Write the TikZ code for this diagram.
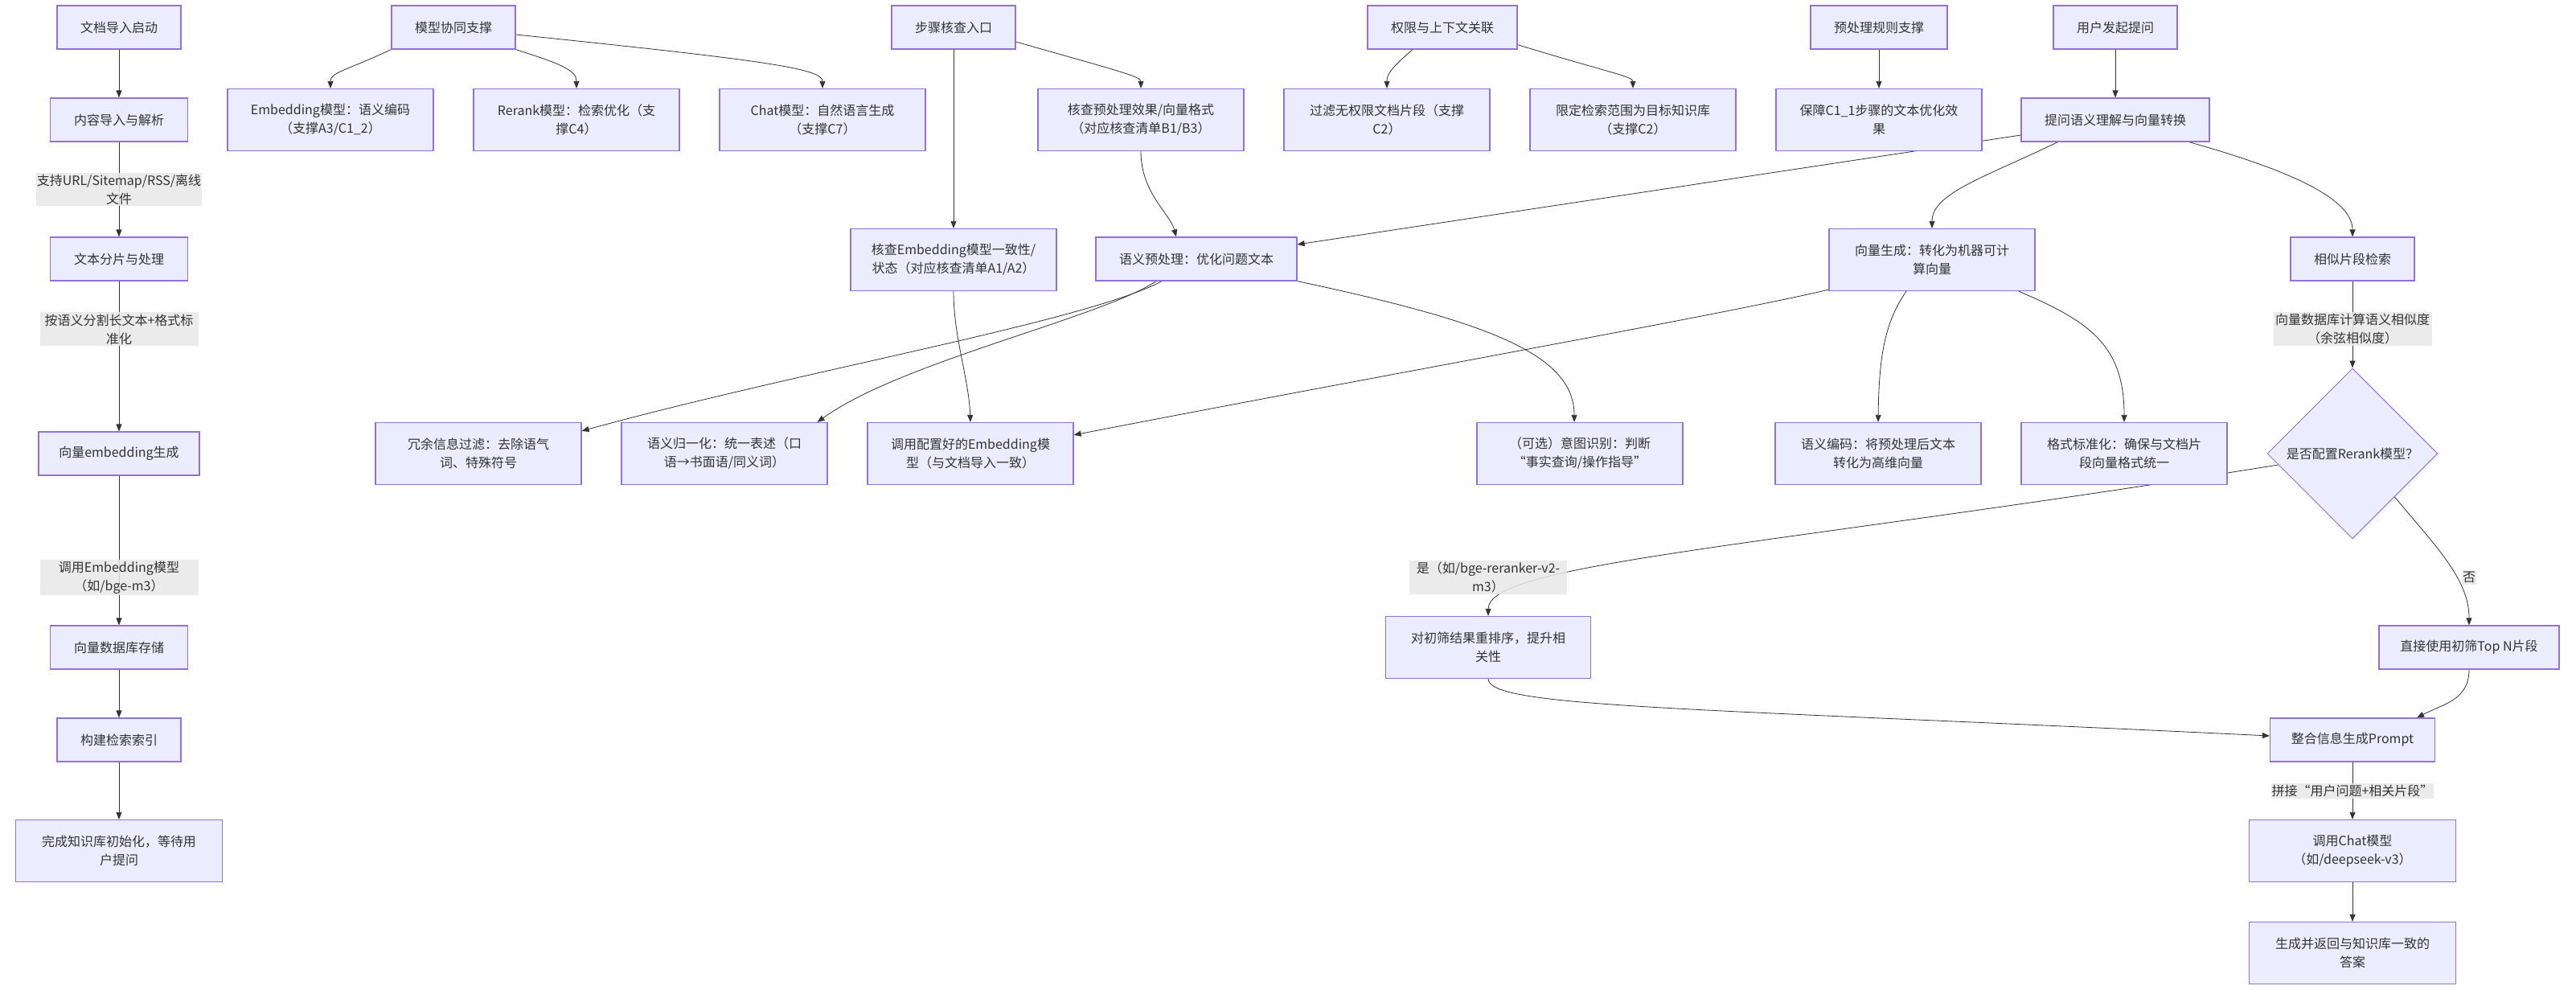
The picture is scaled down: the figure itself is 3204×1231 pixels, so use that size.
\documentclass[tikz,border=0pt]{standalone}
\usepackage{fontspec}
\setmainfont{Noto Sans CJK SC}
\usetikzlibrary{arrows.meta,backgrounds,shapes.geometric}
\definecolor{FlowFill}{HTML}{ECECFF}
\definecolor{FlowBorder}{HTML}{9370DB}
\definecolor{NoteGray}{HTML}{E8E8E8}
\definecolor{InkGray}{HTML}{333333}
\tikzset{
  flowbox/.style={draw=FlowBorder, fill=FlowFill, line width=1.2pt, align=center,
    font=\fontsize{16}{23}\selectfont, text=InkGray, inner sep=0pt,
    minimum width=256pt, minimum height=54pt},
  twoline/.style={minimum height=77pt},
  decision/.style={diamond, aspect=1, draw=FlowBorder, fill=FlowFill, line width=1pt,
    font=\fontsize{16}{23}\selectfont, text=InkGray, inner sep=0pt,
    minimum width=212pt, minimum height=212pt},
  flowarrow/.style={-{Triangle[length=9pt,width=7pt]}, line width=0.8pt, draw=InkGray},
  edgenote/.style={fill=NoteGray, fill opacity=0.85, text opacity=1, text=InkGray,
    align=center, font=\fontsize{16}{23}\selectfont, inner xsep=1pt, inner ysep=2pt}
}
\begin{document}
\begin{tikzpicture}[x=1pt, y=-1pt]
  \useasboundingbox (0,0) rectangle (3204,1231);
  \node[flowbox, minimum width=154pt] (A1) at (148,34) {文档导入启动};
  \node[flowbox, minimum width=171pt] (A2) at (148,149) {内容导入与解析};
  \node[flowbox, minimum width=171pt] (A3) at (148,322) {文本分片与处理};
  \node[flowbox, minimum width=200pt] (A4) at (148,564) {向量embedding生成};
  \node[flowbox, minimum width=171pt] (A5) at (148,805) {向量数据库存储};
  \node[flowbox, minimum width=154pt] (A6) at (148,920) {构建检索索引};
  \node[flowbox, twoline, minimum width=257pt] (A7) at (148,1058) {完成知识库初始化，等待用\\户提问};
  \node[flowbox, minimum width=154pt] (B0) at (564,34) {模型协同支撑};
  \node[flowbox, twoline] (B1) at (411,149) {Embedding模型：语义编码\\（支撑A3/C1\_2）};
  \node[flowbox, twoline] (B2) at (717,149) {Rerank模型：检索优化（支\\撑C4）};
  \node[flowbox, twoline] (B3) at (1023,149) {Chat模型：自然语言生成\\（支撑C7）};
  \node[flowbox, minimum width=154pt] (C0) at (1186,34) {步骤核查入口};
  \node[flowbox, twoline] (C1) at (1419,149) {核查预处理效果/向量格式\\（对应核查清单B1/B3）};
  \node[flowbox, twoline] (C2) at (1186,323) {核查Embedding模型一致性/\\状态（对应核查清单A1/A2）};
  \node[flowbox, twoline] (C3) at (1207,564) {调用配置好的Embedding模\\型（与文档导入一致）};
  \node[flowbox, minimum width=186pt] (D0) at (1794,34) {权限与上下文关联};
  \node[flowbox, twoline] (D1) at (1725,149) {过滤无权限文档片段（支撑\\C2）};
  \node[flowbox, twoline] (D2) at (2031,149) {限定检索范围为目标知识库\\（支撑C2）};
  \node[flowbox, minimum width=170pt] (E0) at (2337,34) {预处理规则支撑};
  \node[flowbox, twoline] (E1) at (2337,149) {保障C1\_1步骤的文本优化效\\果};
  \node[flowbox, minimum width=154pt] (F0) at (2631,34) {用户发起提问};
  \node[flowbox, minimum width=234pt] (F1) at (2631,149) {提问语义理解与向量转换};
  \node[flowbox, minimum width=250pt] (G1) at (1488,322) {语义预处理：优化问题文本};
  \node[flowbox, twoline] (G2) at (595,564) {冗余信息过滤：去除语气\\词、特殊符号};
  \node[flowbox, twoline] (G3) at (901,564) {语义归一化：统一表述（口\\语→书面语/同义词）};
  \node[flowbox, twoline] (G4) at (1965,564) {（可选）意图识别：判断\\“事实查询/操作指导”};
  \node[flowbox, twoline] (H1) at (2403,323) {向量生成：转化为机器可计\\算向量};
  \node[flowbox, twoline] (H2) at (2336,564) {语义编码：将预处理后文本\\转化为高维向量};
  \node[flowbox, twoline] (H3) at (2642,564) {格式标准化：确保与文档片\\段向量格式统一};
  \node[flowbox, minimum width=154pt] (I1) at (2926,322) {相似片段检索};
  \node[decision] (dia) at (2926,564) {是否配置Rerank模型？};
  \node[flowbox, twoline, minimum width=255pt] (J1) at (1851,805) {对初筛结果重排序，提升相\\关性};
  \node[flowbox, minimum width=224pt] (K1) at (3071,805) {直接使用初筛Top N片段};
  \node[flowbox, minimum width=205pt] (L1) at (2926,920) {整合信息生成Prompt};
  \node[flowbox, twoline, minimum width=257pt] (L2) at (2926,1058) {调用Chat模型\\（如/deepseek-v3）};
  \node[flowbox, twoline, minimum width=257pt] (L3) at (2926,1185) {生成并返回与知识库一致的\\答案};
  \begin{scope}[on background layer]
    \draw[flowarrow] (A1) -- (A2);
    \draw[flowarrow] (A2) -- node[edgenote, minimum width=197pt]{支持URL/Sitemap/RSS/离线\\文件} (A3);
    \draw[flowarrow] (A3) -- node[edgenote, pos=0.32, minimum width=197pt]{按语义分割长文本+格式标\\准化} (A4);
    \draw[flowarrow] (A4) -- node[edgenote, pos=0.68, minimum width=197pt]{调用Embedding模型\\（如/bge-m3）} (A5);
    \draw[flowarrow] (A5) -- (A6);
    \draw[flowarrow] (A6) -- (A7);
    \draw[flowarrow] (B0.south west) .. controls (430,88) and (411,90) .. (B1.north);
    \draw[flowarrow] (B0.south east) .. controls (700,80) and (717,88) .. (B2.north);
    \draw[flowarrow] ([yshift=-9pt]B0.east) .. controls (950,75) and (1023,85) .. (B3.north);
    \draw[flowarrow] (C0) -- (C2);
    \draw[flowarrow] ([yshift=-18pt]C0.east) .. controls (1390,88) and (1419,95) .. (C1.north);
    \draw[flowarrow] (C1.south) .. controls (1419,240) and (1455,265) .. ([xshift=-25pt]G1.north);
    \draw[flowarrow] (C2.south) .. controls (1186,420) and (1205,470) .. (C3.north);
    \draw[flowarrow] ([xshift=-37pt]D0.south) .. controls (1730,85) and (1725,92) .. (D1.north);
    \draw[flowarrow] ([yshift=6pt]D0.south east) .. controls (2000,90) and (2031,95) .. (D2.north);
    \draw[flowarrow] (E0) -- (E1);
    \draw[flowarrow] (F0) -- (F1);
    \draw[flowarrow] ([yshift=-19pt]F1.west) -- ([yshift=18pt]G1.east);
    \draw[flowarrow] ([xshift=46pt]F1.south west) .. controls (2470,220) and (2403,240) .. (H1.north);
    \draw[flowarrow] ([xshift=-26pt]F1.south east) .. controls (2860,215) and (2926,250) .. (I1.north);
    \draw[flowarrow] ([xshift=-43pt]G1.south) .. controls (1350,400) and (1000,460) .. ([yshift=-11pt]G2.north east);
    \draw[flowarrow] ([xshift=-50pt]G1.south) .. controls (1370,395) and (1120,450) .. ([xshift=-13pt]G3.north east);
    \draw[flowarrow] (G1.south east) .. controls (1850,400) and (1958,440) .. ([xshift=-7pt]G4.north);
    \draw[flowarrow] ([yshift=2pt]H1.south west) .. controls (2150,390) and (1700,470) .. ([yshift=-16pt]C3.north east);
    \draw[flowarrow] ([xshift=-32pt]H1.south) .. controls (2345,400) and (2337,440) .. (H2.north);
    \draw[flowarrow] ([xshift=-21pt]H1.south east) .. controls (2600,400) and (2642,430) .. (H3.north);
    \draw[flowarrow] (I1) -- node[edgenote, pos=0.55, minimum width=197pt]{向量数据库计算语义相似度\\（余弦相似度）} (dia);
    \draw[flowarrow] ([xshift=14pt,yshift=-14pt]dia.west) .. controls (2200,680) and (1851,700) .. (J1.north);
    \node[edgenote, minimum width=196pt] (yesnote) at (1851,718) {是（如/bge-reranker-v2-\\m3）};
    \draw[flowarrow] ([xshift=-54pt,yshift=-54pt]dia.east) .. controls (3030,680) and (3071,720) .. (K1.north);
    \node[edgenote] (nonote) at (3071,718) {否};
    \draw[flowarrow] (J1.south) .. controls (1851,880) and (2100,880) .. ([yshift=5pt]L1.west);
    \draw[flowarrow] (K1.south) .. controls (3071,870) and (3040,875) .. ([xshift=80pt]L1.north);
    \draw[flowarrow] (L1) -- node[edgenote]{拼接“用户问题+相关片段”} (L2);
    \draw[flowarrow] (L2) -- (L3);
  \end{scope}
\end{tikzpicture}
\end{document}
